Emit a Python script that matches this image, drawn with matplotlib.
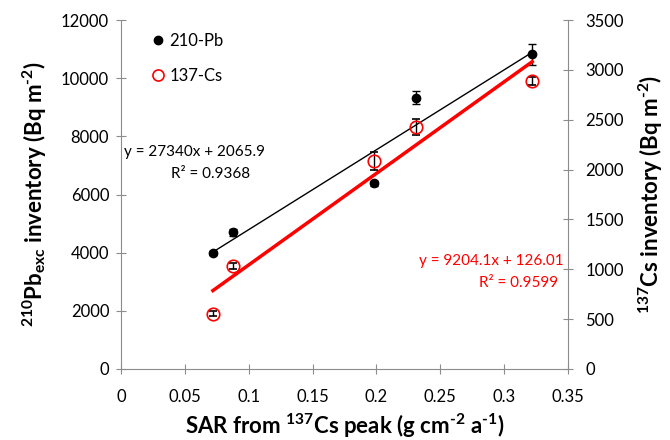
import numpy as np
import matplotlib
matplotlib.use("Agg")
import matplotlib.pyplot as plt
from matplotlib.lines import Line2D

plt.rcParams['font.family'] = ['Lato', 'DejaVu Sans']
plt.rcParams['mathtext.fontset'] = 'custom'
plt.rcParams['mathtext.rm'] = 'Lato:bold'
plt.rcParams['mathtext.bf'] = 'Lato:bold'
plt.rcParams['mathtext.it'] = 'Lato:bold'
plt.rcParams['mathtext.default'] = 'bf'

# Data
sar = [0.072, 0.0875, 0.198, 0.231, 0.322]
pb = [3990, 4700, 6380, 9330, 10830]
pb_err = [80, 110, 100, 230, 360]
cs = [552, 1033, 2086, 2427, 2888]
cs_err = [25, 30, 95, 85, 40]
pb_eq = ["y = 27340x + 2065.9", "R² = 0.9368"]
cs_eq = ["y = 9204.1x + 126.01", "R² = 0.9599"]
x_ticks = [0, 0.05, 0.1, 0.15, 0.2, 0.25, 0.3, 0.35]
x_tick_labels = ["0", "0.05", "0.1", "0.15", "0.2", "0.25", "0.3", "0.35"]

gray = '#8c8c8c'
fig = plt.figure(figsize=(6.7, 4.4), dpi=100)
ax = fig.add_axes([0.1806, 0.1614, 0.667, 0.7931])
ax2 = ax.twinx()

x = np.array(sar)
xl = np.array([x.min(), x.max()])
p1 = np.polyfit(x, pb, 1)
p2 = np.polyfit(x, cs, 1)

ax.plot(xl, np.polyval(p1, xl), color='black', lw=1, zorder=2)
ax2.plot(xl, np.polyval(p2, xl), color='red', lw=2.5, zorder=2)

ax.errorbar(sar, pb, yerr=pb_err, fmt='o', color='black', ms=6,
            ecolor='black', elinewidth=1, capsize=3, capthick=1, zorder=3)
ax2.errorbar(sar, cs, yerr=cs_err, fmt='o', mfc='none', mec='red', color='red', ms=9,
             mew=1.2, ecolor='black', elinewidth=1, capsize=3, capthick=1, zorder=3)

ax.set_xlim(0, 0.35)
ax.set_ylim(0, 12000)
ax2.set_ylim(0, 3500)
ax.set_xticks(x_ticks)
ax.set_xticklabels(x_tick_labels)
ax.set_yticks(np.arange(0, 12001, 2000))
ax2.set_yticks(np.arange(0, 3501, 500))

for a in (ax, ax2):
    a.spines['top'].set_visible(False)
    for s in ('left', 'right', 'bottom'):
        a.spines[s].set_color(gray)
    a.tick_params(direction='inout', length=7, color=gray, labelsize=12, labelcolor='black')
ax.spines['right'].set_visible(False)
ax2.spines['left'].set_visible(False)
ax2.spines['bottom'].set_visible(False)
ax.tick_params(axis='x', pad=11)
ax.tick_params(axis='y', pad=5)
ax2.tick_params(axis='y', pad=9)

ax.set_xlabel(r'SAR from $^{137}$Cs peak (g cm$^{\text{-2}}$ a$^{\text{-1}}$)', fontsize=16, fontweight='bold', labelpad=5)
ax.set_ylabel(r'$^{210}$Pb$_{exc}$ inventory (Bq m$^{\text{-2}}$)', fontsize=16, fontweight='bold', labelpad=9)
ax2.set_ylabel(r'$^{137}$Cs inventory (Bq m$^{\text{-2}}$)', fontsize=16, fontweight='bold', labelpad=9)

handles = [Line2D([], [], ls='none', marker='o', color='black', ms=6),
           Line2D([], [], ls='none', marker='o', mfc='none', mec='red', mew=1.2, ms=8)]
ax.legend(handles, ['210-Pb', '137-Cs'], loc='upper left', bbox_to_anchor=(0.03, 1.005),
          frameon=False, fontsize=12, handletextpad=0.2, handlelength=1.0, labelspacing=1.1)

fig.text(195 / 670, 1 - 152 / 440, pb_eq[0], ha='center', va='center', fontsize=11, color='black')
fig.text(211 / 670, 1 - 174 / 440, pb_eq[1], ha='center', va='center', fontsize=11, color='black')
fig.text(491 / 670, 1 - 261 / 440, cs_eq[0], ha='center', va='center', fontsize=11, color='red')
fig.text(519 / 670, 1 - 283 / 440, cs_eq[1], ha='center', va='center', fontsize=11, color='red')

fig.savefig('out.png', dpi=100)
